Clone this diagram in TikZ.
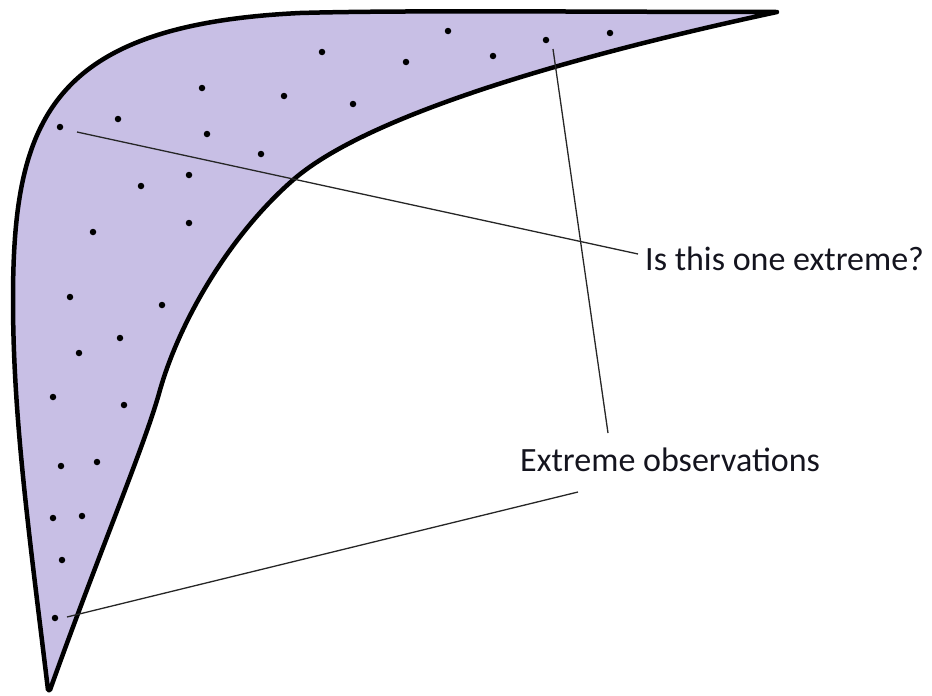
\documentclass[tikz,border=0pt]{standalone}
\usepackage{fontspec}
\setmainfont{Carlito}
\definecolor{lav}{RGB}{200,191,229}
\definecolor{txt}{RGB}{20,20,30}
\begin{document}
\begin{tikzpicture}[x=1pt,y=-1pt,
  outline/.style={draw=black,line width=4.5pt,line join=round,fill=lav},
  dotnode/.style={circle,fill=black,inner sep=0pt,minimum size=6.5pt},
  leader/.style={draw=black!85,line width=1.3pt},
  lbl/.style={font=\fontsize{34}{40}\selectfont,text=txt,inner sep=0pt}]
\useasboundingbox (0,0) rectangle (932,696);
% shape
\path[outline] (48,690) .. controls (30,540) and (13,420) .. (13,300)
  .. controls (13,120) and (50,25) .. (300,13)
  .. controls (400,10) and (600,12) .. (777,12)
  .. controls (600,50) and (373,110) .. (293,180)
  .. controls (230,235) and (180,320) .. (160,390)
  .. controls (145,445) and (100,550) .. (50,690)
  -- cycle;
% dots
\foreach \x/\y [count=\i] in {448/31,610/33,546/40,322/52,406/62,493/56,202/88,284/96,353/104,118/119,60/127,207/134,261/154,141/186,189/175,93/232,189/223,70/297,162/305,120/338,79/353,53/397,124/405,61/466,97/462,53/518,82/516,62/560,55/618}
  \node[dotnode] (d\i) at (\x,\y) {};
% labels
\node[lbl,anchor=base west] (q) at (645,270) {Is this one extreme?};
\node[lbl,anchor=base west] (ext) at (520,471) {Extreme observations};
% leader ends
\coordinate (q0) at (77,132);
\coordinate (q1) at (638,254);
\coordinate (e0) at (553,49);
\coordinate (e1) at (608,433);
\coordinate (f0) at (67,617);
\coordinate (f1) at (578,492);
\draw[leader] (q0) -- (q1);
\draw[leader] (e0) -- (e1);
\draw[leader] (f0) -- (f1);
\end{tikzpicture}
\end{document}
